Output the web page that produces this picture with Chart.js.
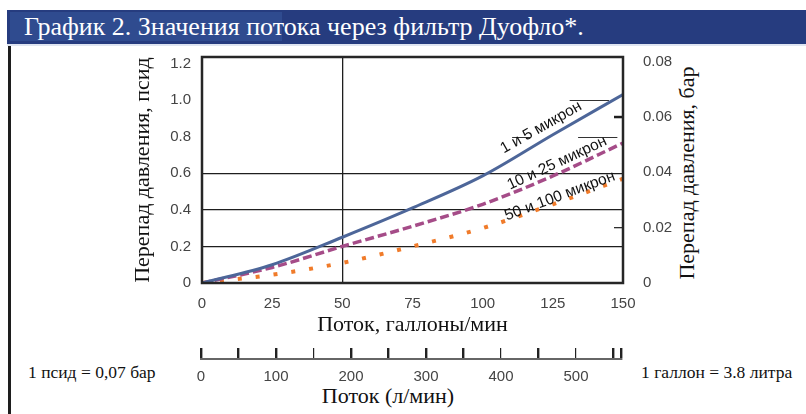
<!DOCTYPE html>
<html>
<head>
<meta charset="UTF-8">
<title>График 2</title>
<script src="https://cdn.jsdelivr.net/npm/chart.js"></script>
<style>
    body { margin: 0; background: #fff; width: 806px; height: 414px; overflow: hidden; position: relative;
           font-family: "Liberation Serif", serif; }
    .bar { position: absolute; left: 7px; top: 10px; width: 799px; height: 34px; background: #263c7f; }
    .bar-hl { position: absolute; left: 10px; top: 12px; width: 272px; height: 29px; background: #2f4b8f; }
    .bar-line { position: absolute; left: 7px; top: 44px; width: 799px; height: 2px; background: #dfe5f1; }
    .title { position: absolute; left: 24px; top: 10px; height: 34px; line-height: 34px; color: #fff;
             font-size: 26px; white-space: nowrap; }
    .edge { position: absolute; left: 8px; top: 46px; width: 3px; height: 368px; background: #1e1e1e; }
    .note { position: absolute; top: 361px; font-size: 17.5px; line-height: 22px; color: #111; white-space: nowrap; }
    .ytitle-right { position: absolute; left: 557px; top: 161px; width: 260px; height: 24px; line-height: 24px;
                    text-align: center; font-size: 22px; color: #111; transform: rotate(-90deg); white-space: nowrap; }
    .litre-title { position: absolute; left: 268px; top: 383px; width: 240px; line-height: 26px; text-align: center;
                   font-size: 22px; color: #111; white-space: nowrap; }
    canvas { position: absolute; left: 0; }
</style>
</head>
<body>
    <div class="bar"></div>
    <div class="bar-hl"></div>
    <div class="bar-line"></div>
    <div class="title">График 2. Значения потока через фильтр Дуофло*.</div>
    <div class="edge"></div>
    <div class="ytitle-right">Перепад давления, бар</div>
    <div class="note" style="left:28px">1 псид = 0,07 бар</div>
    <div class="note" style="left:641px">1 галлон = 3.8 литра</div>
    <div class="litre-title">Поток (л/мин)</div>

    <canvas id="mainChart" width="806" height="414" style="top:0"></canvas>
    <canvas id="litreChart" width="806" height="84" style="top:330px"></canvas>

<script>
    // расход, галлоны/мин
    const flowGal = [0, 25, 50, 75, 100, 125, 150];
    // перепад давления, псид
    const drop1to5 = [0, 0.1, 0.25, 0.41, 0.585, 0.81, 1.03];
    const drop10to25 = [0, 0.085, 0.2, 0.31, 0.43, 0.585, 0.765];
    const drop50to100 = [0, 0.045, 0.11, 0.2, 0.3, 0.43, 0.57];
    const seriesNames = ['1 и 5 микрон', '10 и 25 микрон', '50 и 100 микрон'];

    const galTicks = [0, 25, 50, 75, 100, 125, 150];
    const psiTicks = [0, 0.2, 0.4, 0.6, 0.8, 1.0, 1.2];
    const barTicks = [0, 0.02, 0.04, 0.06, 0.08];
    const litreTicks = [0, 50, 100, 150, 200, 250, 300, 350, 400, 450, 500, 550, 560];
    const litreLabels = [0, 100, 200, 300, 400, 500];

    Chart.defaults.font.family = '"Liberation Sans", Arial, sans-serif';

    const toPoints = ys => flowGal.map((x, i) => ({ x: x, y: ys[i] }));
    const near = (a, b) => Math.abs(a - b) < 1e-6;

    // надписи у кривых: точка (галлоны, псид) и наклон
    const curveLabels = [
        { gal: 120.8, psi: 0.85, angle: -29.5 },
        { gal: 126.5, psi: 0.655, angle: -25 },
        { gal: 127.5, psi: 0.475, angle: -20.5 }
    ];

    const framePlugin = {
        id: 'frame',
        beforeDatasetsDraw(chart) {
            const { ctx, scales } = chart;
            const x = scales.x, y = scales.y, a = chart.chartArea;
            ctx.save();
            ctx.strokeStyle = '#333';
            ctx.lineWidth = 1;
            // обрывки сетки справа вверху
            [[1.0, 131, 145], [0.8, 110.5, 117], [0.8, 134, 148]].forEach(s => {
                const py = Math.round(y.getPixelForValue(s[0])) + 0.5;
                ctx.beginPath();
                ctx.moveTo(x.getPixelForValue(s[1]), py);
                ctx.lineTo(x.getPixelForValue(s[2]), py);
                ctx.stroke();
            });
            // внутренние засечки правой оси
            ctx.strokeStyle = '#1e1e1e';
            [[0.06, 2.5], [0.02, 1.2]].forEach(t => {
                const py = scales.y2.getPixelForValue(t[0]);
                ctx.lineWidth = t[1];
                ctx.beginPath();
                ctx.moveTo(a.right - 9, py);
                ctx.lineTo(a.right, py);
                ctx.stroke();
            });
            ctx.restore();
        },
        afterDatasetsDraw(chart) {
            const { ctx, scales } = chart;
            const a = chart.chartArea;
            ctx.save();
            ctx.strokeStyle = '#262626';
            ctx.lineWidth = 2.5;
            ctx.strokeRect(a.left, a.top, a.right - a.left, a.bottom - a.top);

            ctx.fillStyle = '#111';
            ctx.font = '15.5px "Liberation Sans", Arial, sans-serif';
            ctx.textAlign = 'center';
            ctx.textBaseline = 'middle';
            curveLabels.forEach((l, i) => {
                ctx.save();
                ctx.translate(scales.x.getPixelForValue(l.gal), scales.y.getPixelForValue(l.psi));
                ctx.rotate(l.angle * Math.PI / 180);
                ctx.fillText(seriesNames[i], 0, 0);
                ctx.restore();
            });
            ctx.restore();
        }
    };

    new Chart(document.getElementById('mainChart'), {
        type: 'line',
        data: {
            datasets: [
                {
                    label: seriesNames[0],
                    data: toPoints(drop1to5),
                    borderColor: '#4d6699',
                    borderWidth: 3,
                    yAxisID: 'y'
                },
                {
                    label: seriesNames[1],
                    data: toPoints(drop10to25),
                    borderColor: '#a54c88',
                    borderWidth: 3.5,
                    borderDash: [9, 4],
                    yAxisID: 'y'
                },
                {
                    label: seriesNames[2],
                    data: toPoints(drop50to100),
                    borderColor: '#f07b2a',
                    borderWidth: 4,
                    borderDash: [4, 14],
                    yAxisID: 'y'
                }
            ]
        },
        options: {
            responsive: false,
            animation: false,
            cubicInterpolationMode: 'monotone',
            elements: { point: { radius: 0 }, line: { borderCapStyle: 'butt' } },
            layout: { padding: { left: 128, right: 106, top: 57, bottom: 76 } },
            plugins: { legend: { display: false }, tooltip: { enabled: false } },
            scales: {
                x: {
                    type: 'linear',
                    min: 0,
                    max: 150,
                    afterBuildTicks: s => { s.ticks = galTicks.map(v => ({ value: v })); },
                    afterFit: s => { s.height = 55; },
                    border: { display: false },
                    grid: {
                        drawTicks: false,
                        lineWidth: 1.3,
                        color: c => (c.tick && near(c.tick.value, 50)) ? '#1e1e1e' : 'rgba(0,0,0,0)'
                    },
                    ticks: { padding: 12, color: '#444', font: { size: 15 }, autoSkip: false, maxRotation: 0 },
                    title: {
                        display: true,
                        text: 'Поток, галлоны/мин',
                        color: '#111',
                        font: { family: '"Liberation Serif", serif', size: 22 },
                        padding: { top: 0, bottom: 0 }
                    }
                },
                y: {
                    position: 'left',
                    min: 0,
                    max: 1.235,
                    afterBuildTicks: s => { s.ticks = psiTicks.map(v => ({ value: v })); },
                    afterFit: s => { s.width = 74; },
                    border: { display: false },
                    grid: {
                        drawTicks: false,
                        lineWidth: 1.3,
                        color: c => (c.tick && [0.2, 0.4, 0.6].some(v => near(v, c.tick.value))) ? '#1e1e1e' : 'rgba(0,0,0,0)'
                    },
                    ticks: {
                        padding: 11,
                        color: '#444',
                        font: { size: 15 },
                        callback: v => v === 0 ? '0' : v.toFixed(1)
                    },
                    title: {
                        display: true,
                        text: 'Перепад давления, псид',
                        color: '#111',
                        font: { family: '"Liberation Serif", serif', size: 22 },
                        padding: { top: 2, bottom: 0 }
                    }
                },
                y2: {
                    position: 'right',
                    min: 0,
                    max: 0.0817,
                    afterBuildTicks: s => { s.ticks = barTicks.map(v => ({ value: v })); },
                    afterFit: s => { s.width = 77; },
                    border: { display: false },
                    grid: { display: false },
                    ticks: {
                        padding: 12,
                        color: '#444',
                        font: { size: 15 },
                        callback: v => v === 0 ? '0' : v.toFixed(2)
                    }
                }
            }
        },
        plugins: [framePlugin]
    });

    // нижняя шкала в л/мин
    new Chart(document.getElementById('litreChart'), {
        type: 'line',
        data: { datasets: [] },
        options: {
            responsive: false,
            animation: false,
            layout: { padding: { left: 201, right: 185, top: 18, bottom: 0 } },
            plugins: { legend: { display: false }, tooltip: { enabled: false } },
            scales: {
                x: {
                    type: 'linear',
                    min: 0,
                    max: 560,
                    afterBuildTicks: s => { s.ticks = litreTicks.map(v => ({ value: v })); },
                    afterFit: s => { s.height = 55; },
                    border: { display: true, color: '#666', width: 2 },
                    grid: {
                        drawTicks: false,
                        color: '#222',
                        lineWidth: c => (c.tick && [150, 400, 500].includes(c.tick.value)) ? 1.2 : 2.4
                    },
                    ticks: {
                        padding: 9,
                        color: '#444',
                        font: { size: 15 },
                        autoSkip: false,
                        maxRotation: 0,
                        callback: v => litreLabels.includes(v) ? String(v) : ''
                    }
                },
                y: { display: false, min: 0, max: 1 }
            }
        }
    });
</script>
</body>
</html>
